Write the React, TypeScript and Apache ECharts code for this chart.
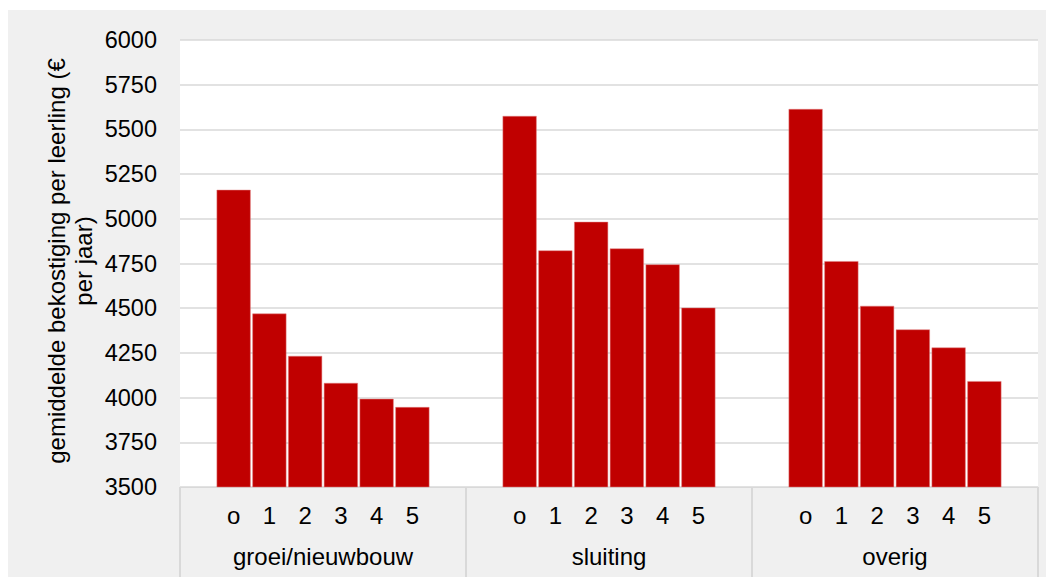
import React, { useEffect, useRef } from "react";
import * as echarts from "echarts";

const groups = ["groei/nieuwbouw", "sluiting", "overig"];
const subLabels = ["o", "1", "2", "3", "4", "5"];
const groeiValues = [5162, 4470, 4233, 4082, 3993, 3947];
const sluitingValues = [5575, 4823, 4983, 4834, 4745, 4503];
const overigValues = [5614, 4763, 4513, 4381, 4280, 4092];
const yTicks = { min: 3500, max: 6000, interval: 250 };
const yTitle = "gemiddelde bekostiging per leerling (€\nper jaar)";

const FONT = "'Liberation Sans', Arial, sans-serif";

export default function App() {
  const ref = useRef<HTMLDivElement>(null);
  useEffect(() => {
    if (!ref.current) return;
    const chart = echarts.init(ref.current, undefined, { renderer: "svg" });
    const allValues = [groeiValues, sluitingValues, overigValues];
    const cats: string[] = [];
    const data: (number | string)[] = [];
    allValues.forEach((vals) => {
      cats.push("");
      data.push("-");
      vals.forEach((v, i) => {
        cats.push(subLabels[i]);
        data.push(v);
      });
      cats.push("");
      data.push("-");
    });
    chart.setOption({
      animation: false,
      backgroundColor: "#f0f0f0",
      textStyle: { fontFamily: FONT },
      grid: {
        left: 172,
        top: 30,
        width: 858,
        height: 447,
        show: true,
        backgroundColor: "#ffffff",
        borderWidth: 0,
        containLabel: false,
      },
      graphic: [
        {
          type: "text",
          x: 62,
          y: 251,
          rotation: Math.PI / 2,
          style: {
            text: yTitle,
            fontSize: 24,
            fontFamily: FONT,
            fill: "#000",
            align: "center",
            verticalAlign: "middle",
            lineHeight: 27,
          },
        },
      ],
      xAxis: [
        {
          type: "category",
          data: cats,
          position: "bottom",
          axisLine: { show: true, lineStyle: { color: "#d9d9d9", width: 1 } },
          axisTick: { show: false },
          axisLabel: {
            interval: 0,
            fontSize: 24,
            color: "#000",
            fontFamily: FONT,
            margin: 16,
          },
          splitLine: { show: false },
        },
        {
          type: "category",
          data: groups,
          position: "bottom",
          axisLine: { show: false },
          axisTick: {
            show: true,
            length: 92,
            lineStyle: { color: "#d9d9d9", width: 2 },
          },
          axisLabel: {
            interval: 0,
            fontSize: 24,
            color: "#000",
            fontFamily: FONT,
            margin: 57,
          },
          splitLine: { show: false },
        },
      ],
      yAxis: {
        type: "value",
        min: yTicks.min,
        max: yTicks.max,
        interval: yTicks.interval,
        axisLine: { show: false },
        axisTick: { show: false },
        axisLabel: {
          fontSize: 23.5,
          color: "#000",
          fontFamily: FONT,
          margin: 23,
          formatter: (v: number) => String(v),
        },
        splitLine: { show: true, lineStyle: { color: "#d9d9d9", width: 1.5 } },
      },
      series: [
        {
          type: "bar",
          xAxisIndex: 0,
          data,
          barWidth: 34,
          itemStyle: { color: "#c00000", borderColor: "#e08080", borderWidth: 0.5 },
        },
      ],
    });
    return () => chart.dispose();
  }, []);
  return (
    <div
      ref={ref}
      style={{ width: 1038, height: 569, position: "relative", top: 2 }}
    />
  );
}
